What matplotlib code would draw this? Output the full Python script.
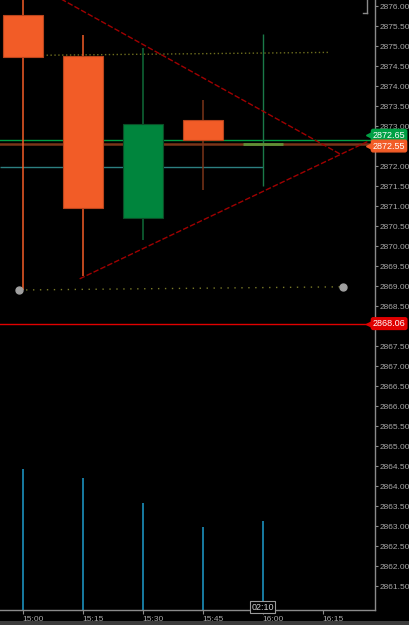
import matplotlib.pyplot as plt
from matplotlib.lines import Line2D
from matplotlib.patches import Rectangle
import matplotlib.transforms as mtransforms

# candle data, one bar per 15 minutes
times = ['15:00', '15:15', '15:30', '15:45', '16:00']
opens = [2875.78, 2874.75, 2870.70, 2873.15, 2872.56]
highs = [2876.60, 2875.28, 2874.95, 2873.65, 2875.30]
lows = [2868.90, 2869.25, 2870.15, 2871.40, 2871.50]
closes = [2874.72, 2870.95, 2873.05, 2872.65, 2872.55]
volumes = [1410, 1320, 1070, 830, 890]
tick_labels = ['15:00', '15:15', '15:30', '15:45', '16:00', '16:15']

# drawn objects (bar index, price)
tri_upper = [(0.55, 2876.25), (5.29, 2872.30)]
tri_lower = [(0.95, 2869.18), (5.76, 2872.62)]
dotted_top = [(-0.25, 2874.76), (5.09, 2874.84)]
dotted_low = [(-0.06, 2868.90), (5.34, 2868.98)]
teal_level = 2871.97
teal_end = 4.0
bid_level = 2872.65
last_level = 2872.55
red_level = 2868.06
countdown = '02:10'

BG = 'black'
AXC = '#8a8a8a'
TXT = '#a8a8a8'
ORANGE = '#f25c27'
GREEN = '#00853d'


def main():
    fig = plt.figure(figsize=(4.10, 6.25), dpi=100, facecolor=BG)
    pos = [0.0, 15 / 625, 375 / 410, 610 / 625]

    # volume panel behind price
    axv = fig.add_axes(pos, facecolor=BG)
    axv.vlines(range(len(volumes)), 0, volumes, color='#1e9ccc', lw=1.1)
    axv.set_ylim(0, 6100)
    axv.axis('off')

    ax = fig.add_axes(pos, facecolor='none', sharex=axv)
    ax.set_xlim(-0.378, 5.872)
    ax.set_ylim(2860.9, 2876.15)

    # levels
    ax.axhline(bid_level, color='#00a044', lw=1.0, zorder=2)
    ax.axhline(last_level, color='#7a3418', lw=1.8, zorder=2)
    ax.axhline(red_level, color='#e00000', lw=1.0, zorder=2)
    ax.hlines(teal_level, -0.378, teal_end, color='#2c7f80', lw=1.0, zorder=2)

    # candles
    w = 0.667
    for i in range(len(times)):
        o, h, l, c = opens[i], highs[i], lows[i], closes[i]
        if abs(c - o) < 0.05:
            ax.vlines(i, l, h, color='#1a7a48', lw=1.0, zorder=3)
            ax.hlines(c, i - w / 2, i + w / 2, color='#5f8f35', lw=2.0, zorder=4)
            continue
        up = c > o
        face = GREEN if up else ORANGE
        edge = '#0b4d26' if up else '#b8441c'
        wick = '#0f6a38' if up else ('#7a3418' if i == 3 else ORANGE)
        ax.vlines(i, l, h, color=wick, lw=1.1, zorder=3)
        ax.add_patch(Rectangle((i - w / 2, min(o, c)), w, abs(c - o),
                               facecolor=face, edgecolor=edge, lw=0.8, zorder=4))

    # drawings
    for seg in (tri_upper, tri_lower):
        ax.plot([p[0] for p in seg], [p[1] for p in seg], color='#a00000',
                lw=1.0, ls=(0, (4, 1.5)), zorder=5)
    ax.plot([p[0] for p in dotted_top], [p[1] for p in dotted_top],
            color='#6e6e1e', lw=1.0, ls=(0, (1, 1.8)), zorder=2)
    ax.plot([p[0] for p in dotted_low], [p[1] for p in dotted_low],
            color='#7a7a28', lw=1.0, ls=(0, (1, 4)), zorder=2)
    ax.plot([p[0] for p in dotted_low], [p[1] for p in dotted_low], 'o',
            ms=5, color='#a0a0a0', zorder=6)

    # axes styling
    for s in ('left', 'top'):
        ax.spines[s].set_visible(False)
    for s in ('right', 'bottom'):
        ax.spines[s].set_color(AXC)
        ax.spines[s].set_linewidth(1.0)
    ax.yaxis.tick_right()
    yt = [2861.5 + 0.5 * k for k in range(30)]
    ax.set_yticks(yt)
    # labels hidden behind the price tags are left blank
    ax.set_yticklabels(['' if abs(v - red_level) < 0.1 or abs(v - last_level) < 0.1
                        else '%.2f' % v for v in yt])
    ax.set_xticks(range(len(tick_labels)))
    ax.set_xticklabels(tick_labels, ha='left')
    ax.tick_params(axis='y', colors=AXC, labelcolor=TXT, length=2, width=0.8,
                   pad=1, labelsize=6)
    ax.tick_params(axis='x', colors=AXC, labelcolor=TXT, length=3, width=0.8,
                   pad=1.5, labelsize=6)
    for lab in ax.get_xticklabels() + ax.get_yticklabels():
        lab.set_family('Liberation Sans')

    # price tags on the right axis
    tr = mtransforms.blended_transform_factory(ax.transAxes, ax.transData)
    for lvl, col, y in ((bid_level, '#00a044', bid_level + 0.12),
                        (last_level, ORANGE, last_level - 0.05),
                        (red_level, '#e00000', red_level)):
        ax.plot([0.985], [y], marker='<', ms=5, color=col, transform=tr,
                clip_on=False, zorder=9)
        ax.text(0.994, y, '%.2f' % lvl, transform=tr, ha='left', va='center',
                color='white', fontsize=6.5, family='Liberation Sans',
                clip_on=False, zorder=10,
                bbox=dict(boxstyle='round,pad=0.15,rounding_size=0.2',
                          fc=col, ec=col))

    # countdown box
    ax.annotate(countdown, xy=(4, 0), xycoords=('data', 'axes fraction'),
                xytext=(0, 2), textcoords='offset points', ha='center',
                va='center', color='#d0d0d0', fontsize=6.5,
                family='Liberation Sans', zorder=10, annotation_clip=False,
                bbox=dict(boxstyle='square,pad=0.15', fc='black', ec='#9a9a9a',
                          lw=0.8))

    # small bracket top right and bottom strip
    fig.add_artist(Line2D([367 / 410, 367 / 410], [1, 1 - 13 / 625],
                          color='#8a8a8a', lw=1))
    fig.add_artist(Line2D([363 / 410, 367 / 410], [1 - 13 / 625, 1 - 13 / 625],
                          color='#8a8a8a', lw=1))
    fig.add_artist(Rectangle((0, 0), 1, 4 / 625, transform=fig.transFigure,
                             fc='#3c3c3c', ec='none'))

    fig.savefig('out.png', dpi=100, facecolor=BG)
    plt.close()


if __name__ == "__main__":
    main()
